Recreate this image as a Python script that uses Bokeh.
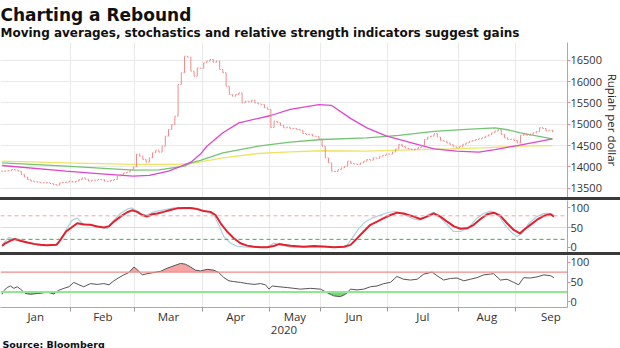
from bokeh.plotting import figure
from bokeh.models import FixedTicker, Title, Range1d, Span, Div, ColumnDataSource, Grid
from bokeh.layouts import column
from bokeh.embed import file_html
from bokeh.resources import INLINE

TITLE = "Charting a Rebound"
SUBTITLE = "Moving averages, stochastics and relative strength indicators suggest gains"
SOURCE = "Source: Bloomberg"
Y_LABEL = "Rupiah per dollar"
YEAR_LABEL = "2020"

months = ["Jan", "Feb", "Mar", "Apr", "May", "Jun", "Jul", "Aug", "Sep"]
month_trading_days = [22, 20, 21, 21, 16, 21, 22, 18, 22]

close_jan = [13899, 13905, 13915, 13938, 13925, 13899, 13821, 13760, 13700, 13665, 13650,
             13641, 13626, 13630, 13626, 13610, 13587, 13571, 13626, 13635, 13641, 13665]
close_feb = [13641, 13665, 13700, 13743, 13710, 13665, 13688, 13690, 13704, 13700,
             13665, 13665, 13680, 13704, 13782, 13821, 13860, 13876, 13930, 14000]
close_mar = [14300, 14250, 14172, 14110, 14211, 14330, 14390, 14345, 14484, 14720, 14876,
             14993, 15188, 15930, 16205, 16594, 16570, 16242, 16125, 16320, 16310]
close_apr = [16440, 16480, 16516, 16453, 16480, 16282, 16205, 15890, 15696, 15657, 15696,
             15735, 15500, 15540, 15520, 15565, 15500, 15475, 15460, 15384, 15345]
close_may = [14920, 15070, 15032, 14970, 14915, 14930, 14892, 14900, 14876, 14860, 14782,
             14759, 14765, 14720, 14715, 14657]
close_jun = [14484, 14211, 14095, 13899, 13890, 13938, 13977, 14016, 14133, 14080, 14070,
             14055, 14095, 14133, 14172, 14157, 14211, 14200, 14250, 14266, 14300]
close_jul = [14300, 14350, 14420, 14530, 14480, 14440, 14420, 14400, 14420, 14450, 14500,
             14640, 14700, 14720, 14780, 14700, 14620, 14600, 14560, 14520, 14470, 14450]
close_aug = [14480, 14530, 14560, 14600, 14620, 14640, 14660, 14680, 14720, 14750, 14800,
             14840, 14870, 14760, 14680, 14640, 14650, 14620]
close_sep = [14560, 14740, 14760, 14740, 14770, 14800, 14830, 14920, 14900, 14840, 14860, 14820]

price_ticks = [13500, 14000, 14500, 15000, 15500, 16000, 16500]
osc_ticks = [0, 50, 100]

ma_yellow_idx = [0, 20, 41, 54, 59, 69, 80, 90, 100, 114, 130, 140, 150, 161, 172]
ma_yellow_val = [14133, 14094, 14060, 14058, 14078, 14211, 14313, 14352, 14378, 14370,
                 14406, 14422, 14445, 14484, 14500]
ma_green_idx = [0, 20, 41, 49, 57, 59, 62, 69, 80, 90, 100, 114, 124, 135, 145, 154, 158, 162, 172]
ma_green_val = [14094, 14016, 13922, 13930, 14016, 14094, 14150, 14328, 14484, 14578, 14641,
                14680, 14740, 14830, 14880, 14915, 14870, 14798, 14657]
ma_magenta_idx = [0, 20, 31, 41, 46, 52, 56, 59, 62, 64, 69, 74, 84, 90, 99, 103, 109, 114,
                  120, 130, 135, 142, 149, 154, 161, 172]
ma_magenta_val = [14032, 13899, 13837, 13782, 13800, 13899, 14016, 14110, 14300, 14484, 14798,
                  15032, 15204, 15345, 15458, 15440, 15130, 14915, 14727, 14524, 14422, 14367,
                  14344, 14406, 14500, 14657]

stoch_d_idx = [0, 1, 3, 4, 6, 8, 10, 12, 14, 17, 18, 20, 22, 23.5, 25.5, 27.6, 29.7, 31.8, 33.3,
               34.9, 37, 39.1, 40.6, 42.2, 43.8, 45.3, 46.9, 48.5, 50.5, 52.6, 54.7, 56.8, 58.9,
               61, 63, 65.1, 66.7, 68.3, 70.3, 72.4, 74.5, 76.6, 78.7, 80.75, 82.8, 84.9, 86.5,
               88, 90.1, 94.3, 97.4, 100.5, 103.7, 106.8, 108.9, 111, 113, 115.1, 117.2, 119.3,
               121.4, 123.5, 125.5, 128.7, 130.75, 132.8, 134.9, 137, 139.1, 141.2, 143.25,
               145.3, 147.4, 149.5, 151.6, 153.7, 155.75, 157.8, 159.9, 161.8, 163, 165.1,
               167.2, 169.3, 171.4, 172.5]
stoch_d_val = [3, 10, 18, 21, 16, 12, 8.5, 6, 5, 6, 16, 40, 52, 61, 58, 57, 53, 50, 53, 65, 78,
               89, 94, 90, 82, 78, 84, 86, 90, 95, 99, 100, 100, 97, 92, 90, 82, 61, 40, 23, 10,
               4, 1, 0, 0, 3, 8, 6, 4, 1, 3, 2, 0, 1, 6, 23, 40, 57, 65, 74, 82, 88, 86, 78, 72,
               78, 86, 78, 65, 53, 47, 48, 57, 72, 84, 88, 80, 61, 44, 35, 44, 57, 70, 80, 84, 78]
stoch_k_idx = [0, 2.1, 4.2, 7.8, 12, 16.7, 18.3, 20.3, 21.9, 23.5, 25, 27.6, 30.75, 32.8, 34.9,
               37, 39.1, 40.6, 42.2, 43.8, 45.3, 47.4, 50.5, 53.7, 57.8, 61, 63.6, 66.2, 67.7,
               69.3, 71.4, 73.5, 76.6, 79.7, 82.8, 84.9, 87, 90.1, 94.3, 97.4, 100.5, 103.6,
               107.3, 109.4, 111.5, 113.5, 115.6, 118.2, 120.8, 122.9, 125.5, 128.6, 130.7,
               133.3, 134.9, 137, 139.1, 141.1, 143.2, 145.8, 148.4, 150.5, 152.6, 154.7,
               156.8, 158.9, 160.9, 162.5, 164.6, 167.2, 169.3, 171.4, 172.5]
stoch_k_val = [6, 25, 19, 10, 4, 6, 19, 48, 69, 74, 61, 57, 52, 47, 69, 86, 97, 100, 92, 84,
               82, 90, 95, 100, 100, 99, 92, 82, 57, 27, 10, 2, 0, 0, 0, 10, 6, 0, 0, 1, 0, 0,
               0, 23, 48, 65, 74, 82, 89, 91, 84, 72, 69, 84, 89, 74, 57, 40, 40, 50, 74, 86,
               92, 86, 61, 40, 27, 35, 61, 78, 86, 86, 80]

rsi_idx = [0, 0.5, 1.6, 2.6, 3.7, 4.7, 5.75, 7.3, 8.9, 11, 12.5, 14.1, 15.1, 16.2, 17.7, 19.3,
           20.9, 22.4, 24, 25.5, 27.6, 29.7, 31.8, 33.4, 34.9, 36.5, 38, 39.6, 41.2, 42.4,
           43.8, 45.3, 47.4, 49.5, 51.6, 53.7, 55.75, 57.3, 58.9, 60.4, 62, 64.1, 66.2, 67.7,
           69.3, 70.9, 72.4, 74.5, 76.6, 78.7, 80.75, 82.3, 83.4, 84.4, 86.5, 89.1, 91.2, 93.2,
           96.35, 99.5, 101.6, 103.6, 105.7, 107.3, 108.9, 110.9, 113, 115.1, 117.2, 119.3,
           121.35, 123.4, 125.5, 127.6, 129.7, 131.8, 134.4, 135.9, 138, 140.1, 142.2, 144.3,
           146.35, 148.4, 150.5, 152.6, 153.6, 155.7, 157.8, 159.9, 161.45, 163, 165.1, 167.2,
           169.3, 171.35, 172.5]
rsi_val = [19, 28, 36, 40, 34, 38, 32, 21, 19, 21, 22, 25, 22, 20, 29, 34, 38, 49, 43, 38, 46,
           44, 46, 43, 53, 61, 68, 74, 88, 80, 68, 71, 74, 77, 85, 91, 97, 95, 88, 80, 78, 82,
           80, 74, 61, 53, 51, 49, 46, 44, 46, 43, 32, 40, 38, 36, 34, 32, 34, 32, 23, 15, 13,
           19, 32, 30, 32, 38, 40, 46, 49, 64, 57, 55, 57, 70, 75, 66, 55, 59, 60, 53, 57, 61,
           68, 70, 71, 55, 57, 49, 43, 61, 60, 63, 68, 66, 61]

STOCH_UPPER, STOCH_LOWER = 80, 20
RSI_UPPER, RSI_LOWER = 75, 25

# ---------------------------------------------------------------- styling
TFONT = "DejaVu Sans"
FONT = "Open Sans"
AXIS_PINK = "#f08a94"
GRID = "#e9e9e9"
CANDLE = "#f08a8a"

close = (close_jan + close_feb + close_mar + close_apr + close_may + close_jun +
         close_jul + close_aug + close_sep)
n = len(close)
idx = list(range(n))
opens = [close[0]] + close[:-1]

starts = []
acc = 0
for d in month_trading_days:
    starts.append(acc)
    acc += d
boundaries = [s - 0.5 for s in starts[1:]]
centers = [s - 0.5 + d / 2 for s, d in zip(starts, month_trading_days)]
label_map = {}
for c, m in zip(centers, months):
    label_map[int(c) if c == int(c) else c] = m

xr = Range1d(-0.5, 176.7)


def make_fig(frame_h, yr, ticks, x_axis, pad):
    p = figure(frame_width=567, frame_height=frame_h, x_range=xr, y_range=yr,
               output_backend="svg", toolbar_location=None, title=None,
               y_axis_location="right", x_axis_location=("below" if x_axis else None),
               min_border_left=0, min_border_right=0, min_border_top=pad,
               min_border_bottom=(0 if x_axis else pad))
    p.outline_line_color = None
    p.background_fill_color = "white"
    p.border_fill_color = "white" if pad == 0 else None
    for g in p.grid:
        g.visible = False
    p.add_layout(Grid(dimension=0, ticker=FixedTicker(ticks=boundaries),
                      grid_line_color=GRID, grid_line_width=1))
    ya = p.yaxis[0]
    ya.ticker = FixedTicker(ticks=ticks)
    ya.axis_line_color = AXIS_PINK
    ya.major_tick_line_color = AXIS_PINK
    ya.major_tick_in = 0
    ya.major_tick_out = 3
    ya.minor_tick_line_color = None
    ya.major_label_text_font = FONT
    ya.major_label_text_font_size = "11px"
    ya.major_label_text_color = "#333333"
    ya.major_label_standoff = 0
    return p


# ---------------------------------------------------------------- main panel
main = make_fig(155, Range1d(13282, 16915), price_ticks, False, 0)
main.add_layout(Grid(dimension=1, ticker=FixedTicker(ticks=price_ticks),
                     grid_line_color=GRID, grid_line_width=1))
main.yaxis[0].axis_label = Y_LABEL
main.yaxis[0].axis_label_text_font = FONT
main.yaxis[0].axis_label_text_font_size = "11.5px"
main.yaxis[0].axis_label_text_font_style = "normal"
main.yaxis[0].axis_label_text_color = "#222222"
main.yaxis[0].axis_label_standoff = 0

main.line(ma_yellow_idx, ma_yellow_val, line_color="#eee366", line_width=1.3)
main.line(ma_green_idx, ma_green_val, line_color="#72c472", line_width=1.3)
main.line(ma_magenta_idx, ma_magenta_val, line_color="#dd48cc", line_width=1.3)

csrc = ColumnDataSource(dict(
    x=idx, o=opens, c=close,
    lo=[min(a, b) for a, b in zip(opens, close)],
    hi=[max(a, b) for a, b in zip(opens, close)],
    xl=[i - 0.3 for i in idx], xr=[i + 0.3 for i in idx]))
main.segment("x", "lo", "x", "hi", source=csrc, line_color=CANDLE, line_width=1)
main.segment("xl", "o", "x", "o", source=csrc, line_color=CANDLE, line_width=1)
main.segment("x", "c", "xr", "c", source=csrc, line_color=CANDLE, line_width=1)

main.add_layout(Title(text=SUBTITLE, text_font=TFONT, text_font_size="12px",
                      text_font_style="bold", text_color="#111111", align="left",
                      offset=0, standoff=5), "above")
main.add_layout(Title(text=TITLE, text_font=TFONT, text_font_size="17px",
                      text_font_style="bold", text_color="#111111", align="left",
                      offset=0, standoff=-6), "above")
main.add_layout(Title(text=" ", text_font=TFONT, text_font_size="3px",
                      align="left", offset=0, standoff=0), "above")

# ---------------------------------------------------------------- stochastic
stoch = make_fig(52, Range1d(-13.5, 119), osc_ticks, False, 3)
stoch.add_layout(Grid(dimension=1, ticker=FixedTicker(ticks=[50]),
                      grid_line_color="#dddddd", grid_line_width=1))
stoch.add_layout(Span(location=STOCH_UPPER, dimension="width", line_color="#f4a3a3",
                      line_dash="4 3", line_width=1))
stoch.add_layout(Span(location=STOCH_LOWER, dimension="width", line_color="#3fae3f",
                      line_dash="4 3", line_width=1))
stoch.line(stoch_k_idx, stoch_k_val, line_color="#a9d3dc", line_width=1.2)
stoch.line(stoch_d_idx, stoch_d_val, line_color="#e5202e", line_width=2)


# ---------------------------------------------------------------- RSI
def clip_fill(xs, ys, thr, above):
    ox, oy = [], []
    for k in range(len(xs)):
        if k > 0:
            y0, y1 = ys[k - 1], ys[k]
            if (y0 - thr) * (y1 - thr) < 0:
                t = (thr - y0) / (y1 - y0)
                ox.append(xs[k - 1] + t * (xs[k] - xs[k - 1]))
                oy.append(thr)
        ox.append(xs[k])
        oy.append(max(ys[k], thr) if above else min(ys[k], thr))
    return ox, oy


rsi = make_fig(52, Range1d(-14.4, 117), osc_ticks, True, 3)
ux, uy = clip_fill(rsi_idx, rsi_val, RSI_UPPER, True)
lx, ly = clip_fill(rsi_idx, rsi_val, RSI_LOWER, False)
rsi.varea(x=ux, y1=[RSI_UPPER] * len(ux), y2=uy, fill_color="#f59a9a", fill_alpha=0.9)
rsi.varea(x=lx, y1=[RSI_LOWER] * len(lx), y2=ly, fill_color="#66d166", fill_alpha=0.9)
rsi.add_layout(Span(location=RSI_UPPER, dimension="width", line_color="#f08a8a", line_width=1.3))
rsi.add_layout(Span(location=RSI_LOWER, dimension="width", line_color="#8fe88f", line_width=2))
rsi.line(rsi_idx, rsi_val, line_color="#555555", line_width=1)

xa = rsi.xaxis[0]
xa.ticker = FixedTicker(ticks=list(label_map.keys()), minor_ticks=boundaries)
xa.major_label_overrides = label_map
xa.major_tick_line_color = None
xa.major_tick_in = 0
xa.major_tick_out = 0
xa.minor_tick_line_color = "#999999"
xa.minor_tick_in = 0
xa.minor_tick_out = 4
xa.axis_line_color = "#aaaaaa"
xa.major_label_text_font = FONT
xa.major_label_text_font_size = "11.5px"
xa.major_label_text_color = "#333333"
xa.major_label_standoff = -3
xa.axis_label = YEAR_LABEL
xa.axis_label_text_font = FONT
xa.axis_label_text_font_size = "11.5px"
xa.axis_label_text_font_style = "normal"
xa.axis_label_text_color = "#333333"
xa.axis_label_standoff = -1

rsi.add_layout(Title(text=SOURCE, text_font=TFONT, text_font_size="9.5px",
                     text_font_style="bold", text_color="#111111", align="left",
                     offset=2, standoff=0), "below")


def sep(top, bottom):
    return Div(width=620, height=3, margin=(top, 0, bottom, 0),
               styles={"background-color": "#3a3a3a"})


layout = column(main, sep(0, -3), stoch, sep(-3, -3), rsi, spacing=0)
open("out.html", "w").write(file_html(layout, INLINE))
